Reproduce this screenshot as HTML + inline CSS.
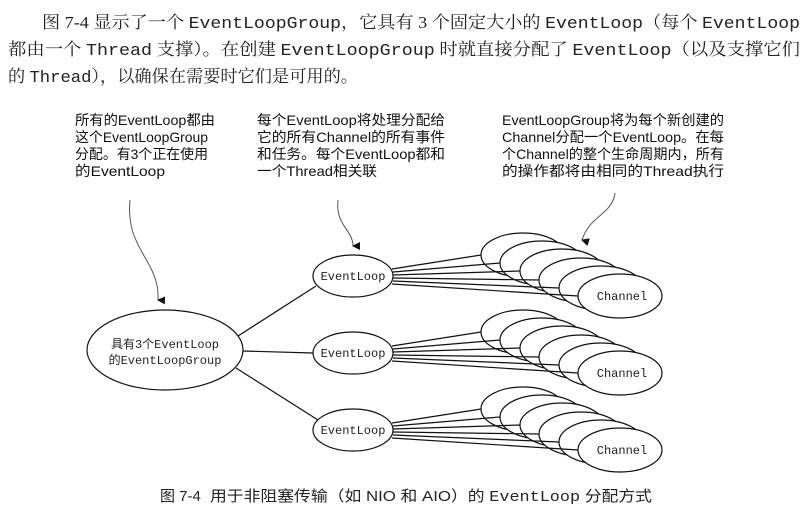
<!DOCTYPE html>
<html><head><meta charset="utf-8"><style>
html,body{margin:0;padding:0;background:#fff;}
svg{display:block;}
.p{font-family:"Liberation Serif","Noto Serif CJK SC",serif;font-size:17px;fill:#222;}
.m{font-family:"Liberation Mono","Noto Sans CJK SC",monospace;}
.a{font-family:"Liberation Sans","Noto Sans CJK SC",sans-serif;font-size:14px;fill:#111;}
.n{font-family:"Liberation Mono",monospace;font-size:12px;fill:#222;}
</style></head><body>
<svg width="810" height="519" viewBox="0 0 810 519" xmlns="http://www.w3.org/2000/svg">
<defs><marker id="ar" markerWidth="8" markerHeight="8" refX="4" refY="7" orient="auto-start-reverse" markerUnits="userSpaceOnUse"><path d="M0,0 L8,0 L4,8 Z" fill="#111" transform="rotate(0)"/></marker></defs>
<text class="p" x="42" y="28" textLength="758" lengthAdjust="spacingAndGlyphs">图 7-4 显示了一个 <tspan class="m">EventLoopGroup</tspan>，它具有 3 个固定大小的 <tspan class="m">EventLoop</tspan>（每个 <tspan class="m">EventLoop</tspan></text>
<text class="p" x="8" y="55" textLength="792" lengthAdjust="spacingAndGlyphs">都由一个 <tspan class="m">Thread</tspan> 支撑）。在创建 <tspan class="m">EventLoopGroup</tspan> 时就直接分配了 <tspan class="m">EventLoop</tspan>（以及支撑它们</text>
<text class="p" x="8" y="82" textLength="350" lengthAdjust="spacingAndGlyphs">的 <tspan class="m">Thread</tspan>），以确保在需要时它们是可用的。</text>

<g class="a">
<text x="75" y="125" textLength="140" lengthAdjust="spacingAndGlyphs">所有的EventLoop都由</text>
<text x="75" y="142" textLength="133" lengthAdjust="spacingAndGlyphs">这个EventLoopGroup</text>
<text x="75" y="159" textLength="133" lengthAdjust="spacingAndGlyphs">分配。有3个正在使用</text>
<text x="75" y="176" textLength="90" lengthAdjust="spacingAndGlyphs">的EventLoop</text>
<text x="257" y="125" textLength="188" lengthAdjust="spacingAndGlyphs">每个EventLoop将处理分配给</text>
<text x="257" y="142" textLength="188" lengthAdjust="spacingAndGlyphs">它的所有Channel的所有事件</text>
<text x="257" y="159" textLength="188" lengthAdjust="spacingAndGlyphs">和任务。每个EventLoop都和</text>
<text x="257" y="176" textLength="120" lengthAdjust="spacingAndGlyphs">一个Thread相关联</text>
<text x="502" y="125" textLength="222" lengthAdjust="spacingAndGlyphs">EventLoopGroup将为每个新创建的</text>
<text x="502" y="142" textLength="222" lengthAdjust="spacingAndGlyphs">Channel分配一个EventLoop。在每</text>
<text x="502" y="159" textLength="222" lengthAdjust="spacingAndGlyphs">个Channel的整个生命周期内，所有</text>
<text x="502" y="176" textLength="222" lengthAdjust="spacingAndGlyphs">的操作都将由相同的Thread执行</text>
</g>

<g fill="none" stroke="#555" stroke-width="1">
<path d="M130,200 C125,250 160,260 158,300" marker-end="url(#ar)"/>
<path d="M338,200 C335,225 353,230 353,246" marker-end="url(#ar)"/>
<path d="M615,193 C612,215 590,215 582,240" marker-end="url(#ar)"/>
</g>

<g stroke="#111" stroke-width="1.2" fill="#fff">
<ellipse cx="165" cy="350" rx="78" ry="40"/>
<line x1="238" y1="336" x2="316" y2="286"/>
<line x1="243" y1="351" x2="313" y2="353"/>
<line x1="236" y1="368" x2="318" y2="420"/>
<ellipse cx="353" cy="276" rx="40" ry="21"/>
<ellipse cx="353" cy="353" rx="40" ry="21"/>
<ellipse cx="353" cy="430" rx="40" ry="21"/>
</g>
<g class="n" text-anchor="middle">
<text x="165" y="348">具有3个EventLoop</text>
<text x="165" y="364">的EventLoopGroup</text>
<text x="353" y="280">EventLoop</text>
<text x="353" y="357">EventLoop</text>
<text x="353" y="434">EventLoop</text>
</g>

<g id="s1" stroke="#111" stroke-width="1.2" fill="#fff">
<ellipse cx="523" cy="255" rx="42" ry="22"/>
<ellipse cx="542" cy="263" rx="42" ry="22"/>
<ellipse cx="562" cy="271" rx="42" ry="22"/>
<ellipse cx="581" cy="280" rx="42" ry="22"/>
<ellipse cx="601" cy="288" rx="42" ry="22"/>
<ellipse cx="620" cy="296" rx="42" ry="22"/>
<g fill="none">
<line x1="392" y1="269" x2="481" y2="255"/>
<line x1="393" y1="272" x2="500" y2="263"/>
<line x1="393" y1="275" x2="520" y2="271"/>
<line x1="393" y1="278" x2="539" y2="280"/>
<line x1="393" y1="281" x2="559" y2="288"/>
<line x1="392" y1="284" x2="578" y2="296"/>
</g>
</g>
<use href="#s1" y="77"/>
<use href="#s1" y="154"/>
<g class="n" text-anchor="middle">
<text x="622" y="300">Channel</text>
<text x="622" y="377">Channel</text>
<text x="622" y="454">Channel</text>
</g>

<text x="160" y="501" style="font-family:'Liberation Sans','Noto Sans CJK SC',sans-serif;font-size:15px;fill:#222;">图 7-4</text>
<text x="210" y="501" textLength="442" lengthAdjust="spacingAndGlyphs" style="font-family:'Liberation Sans','Noto Sans CJK SC',sans-serif;font-size:15px;fill:#222;">用于非阻塞传输（如 NIO 和 AIO）的 <tspan class="m">EventLoop</tspan> 分配方式</text>
</svg>
</body></html>
